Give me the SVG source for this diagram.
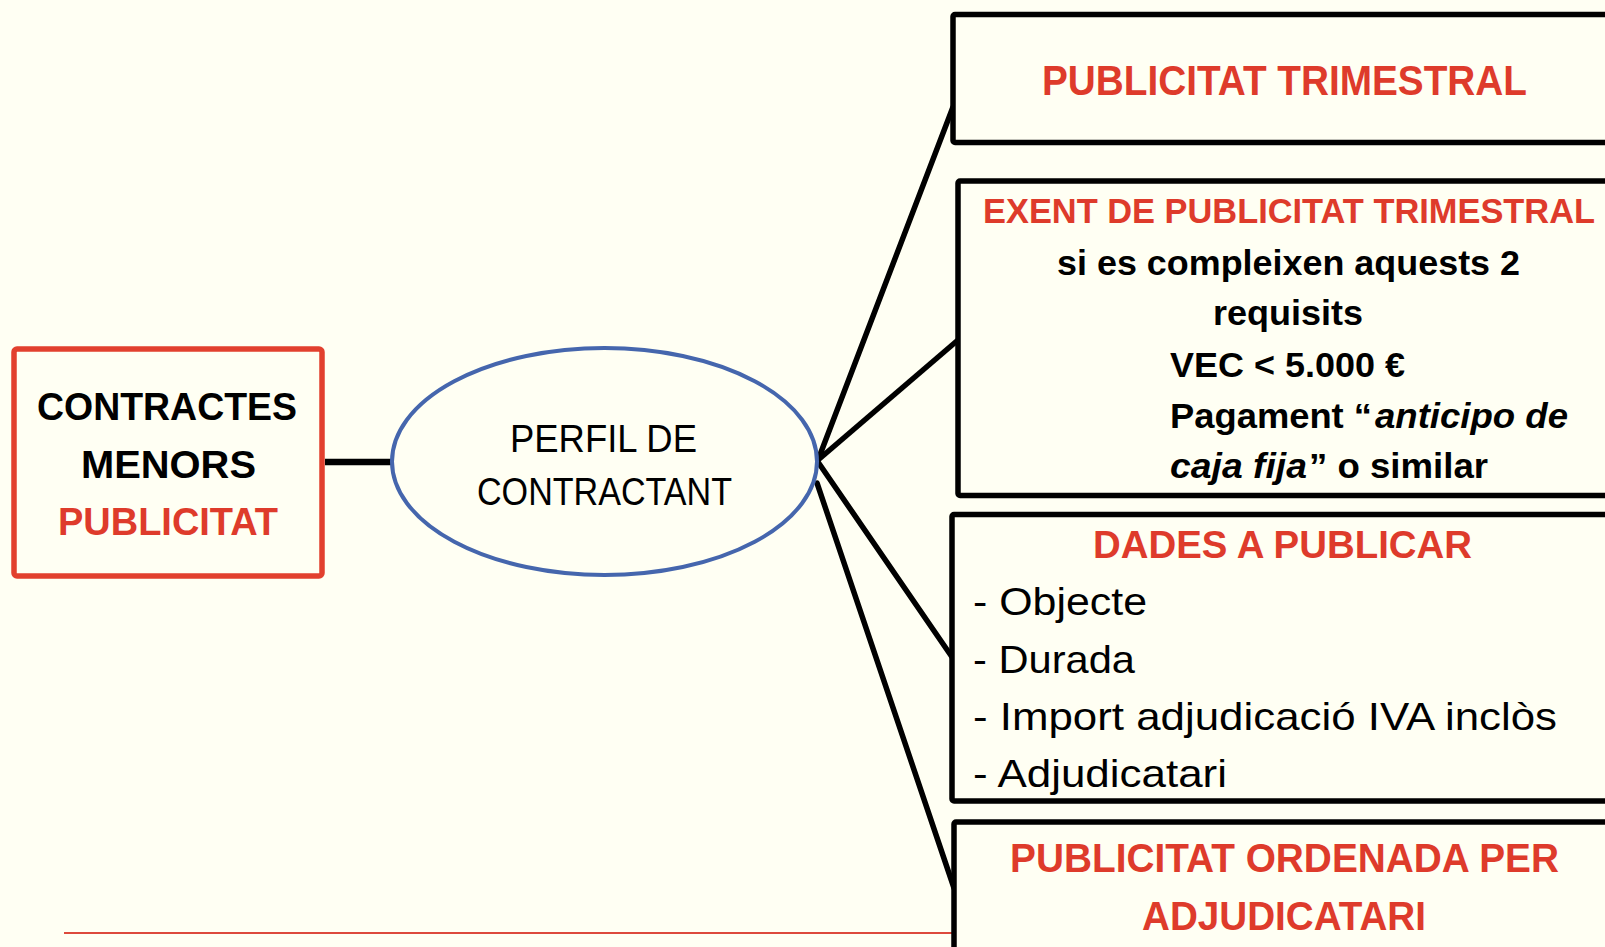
<svg xmlns="http://www.w3.org/2000/svg" width="1605" height="947" viewBox="0 0 1605 947">
<style>
.bg{fill:#FFFFF3}
.box{fill:#FFFFF3;stroke:#000;stroke-width:5.5}
.rbox{fill:#FFFFF3;stroke:#E2402E;stroke-width:5.5}
.ell{fill:#FFFFF3;stroke:#4566AD;stroke-width:4}
.con{stroke:#000;stroke-width:5.5;fill:none;stroke-linecap:round}
.t{font-family:"Liberation Sans",Arial,sans-serif;fill:#000}
.b{font-weight:bold}
.red{fill:#DE3B2B}
.it{font-style:italic}
</style>
<rect class="bg" x="0" y="0" width="1605" height="947"/>
<g id="connectors">
  <line class="con" x1="325" y1="462" x2="392" y2="462" style="stroke-width:6.5;stroke-linecap:butt"/>
  <line class="con" x1="818" y1="460" x2="953" y2="107"/>
  <line class="con" x1="818" y1="460" x2="958" y2="340"/>
  <line class="con" x1="818" y1="462" x2="952" y2="657"/>
  <line class="con" x1="817" y1="483" x2="954" y2="888"/>
  <line x1="64" y1="933" x2="952" y2="933" stroke="#DD4A3C" stroke-width="2"/>
</g>
<g id="node-contractes">
  <rect class="rbox" x="14" y="349" width="308" height="227" rx="3"/>
  <text class="t b" x="37" y="420" font-size="39" textLength="260" lengthAdjust="spacingAndGlyphs">CONTRACTES</text>
  <text class="t b" x="81" y="478" font-size="39" textLength="175" lengthAdjust="spacingAndGlyphs">MENORS</text>
  <text class="t b red" x="58" y="535" font-size="39" textLength="220" lengthAdjust="spacingAndGlyphs">PUBLICITAT</text>
</g>
<g id="node-perfil">
  <ellipse class="ell" cx="604.5" cy="461.5" rx="212.5" ry="113.5"/>
  <text class="t" x="510" y="452" font-size="38" textLength="187" lengthAdjust="spacingAndGlyphs">PERFIL DE</text>
  <text class="t" x="477" y="505" font-size="38" textLength="255" lengthAdjust="spacingAndGlyphs">CONTRACTANT</text>
</g>
<g id="node-trimestral">
  <rect class="box" x="953" y="14.5" width="700" height="128" rx="2"/>
  <text class="t b red" x="1042" y="95" font-size="42" textLength="485" lengthAdjust="spacingAndGlyphs">PUBLICITAT TRIMESTRAL</text>
</g>
<g id="node-exent">
  <rect class="box" x="958" y="181" width="700" height="314.5" rx="2"/>
  <text class="t b red" x="983" y="223" font-size="35" textLength="612" lengthAdjust="spacingAndGlyphs">EXENT DE PUBLICITAT TRIMESTRAL</text>
  <text class="t b" x="1057" y="275" font-size="35" textLength="463" lengthAdjust="spacingAndGlyphs">si es compleixen aquests 2</text>
  <text class="t b" x="1213" y="325" font-size="35" textLength="150" lengthAdjust="spacingAndGlyphs">requisits</text>
  <text class="t b" x="1170" y="377" font-size="35" textLength="235" lengthAdjust="spacingAndGlyphs">VEC &lt; 5.000 €</text>
  <text class="t b" x="1170" y="428" font-size="35" textLength="202" lengthAdjust="spacingAndGlyphs">Pagament “</text>
  <text class="t b it" x="1375" y="428" font-size="35" textLength="193" lengthAdjust="spacingAndGlyphs">anticipo de</text>
  <text class="t b it" x="1170" y="478" font-size="35" textLength="137" lengthAdjust="spacingAndGlyphs">caja fija</text>
  <text class="t b" x="1309" y="478" font-size="35" textLength="179" lengthAdjust="spacingAndGlyphs">” o similar</text>
</g>
<g id="node-dades">
  <rect class="box" x="952" y="514.5" width="700" height="286.5" rx="2"/>
  <text class="t b red" x="1093" y="558" font-size="39" textLength="379" lengthAdjust="spacingAndGlyphs">DADES A PUBLICAR</text>
  <text class="t" x="973" y="615" font-size="39" textLength="174" lengthAdjust="spacingAndGlyphs">- Objecte</text>
  <text class="t" x="973" y="673" font-size="39" textLength="162" lengthAdjust="spacingAndGlyphs">- Durada</text>
  <text class="t" x="973" y="730" font-size="39" textLength="584" lengthAdjust="spacingAndGlyphs">- Import adjudicació IVA inclòs</text>
  <text class="t" x="973" y="787" font-size="39" textLength="254" lengthAdjust="spacingAndGlyphs">- Adjudicatari</text>
</g>
<g id="node-ordenada">
  <rect class="box" x="954" y="822" width="700" height="200" rx="2"/>
  <text class="t b red" x="1010" y="872" font-size="40" textLength="549" lengthAdjust="spacingAndGlyphs">PUBLICITAT ORDENADA PER</text>
  <text class="t b red" x="1142" y="930" font-size="40" textLength="284" lengthAdjust="spacingAndGlyphs">ADJUDICATARI</text>
</g>
</svg>
